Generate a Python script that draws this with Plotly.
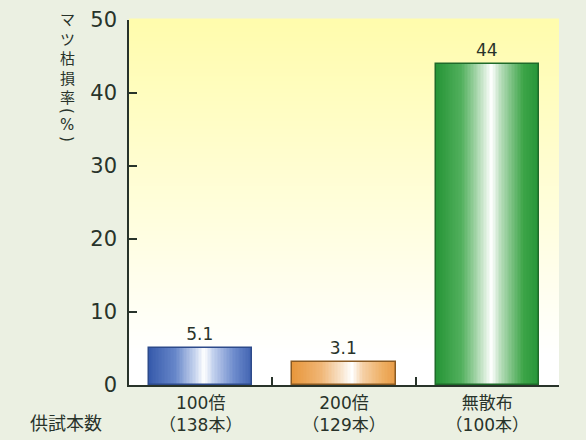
import plotly.graph_objects as go

# ---- data ----
categories = ["100倍<br>（138本）", "200倍<br>（129本）", "無散布<br>（100本）"]
values = [5.1, 3.1, 44]
value_labels = ["5.1", "3.1", "44"]
y_title_main = ["マ", "ツ", "枯", "損", "率"]
y_title_unit = ["(", "%", ")"]
x_side_label = "供試本数"

# ---- styles ----
BG = "#ebf0e2"
TXT = "#28332a"
FONT = "DejaVu Sans, Noto Sans CJK JP"
CJK = "Noto Sans CJK JP"
W, H = 586, 440
ML, MR, MT, MB = 129, 27, 20, 55
PW, PH = W - ML - MR, H - MT - MB
BAR_W = 0.72

grad_stops = [
    [(0, "#365aab"), (0.25, "#6686c9"), (0.45, "#c9d6ef"), (0.53, "#ffffff"),
     (0.62, "#c4d2ee"), (0.82, "#6e8ccd"), (1, "#4062b0")],
    [(0, "#e8973c"), (0.28, "#f0b676"), (0.48, "#f9e6d0"), (0.58, "#ffffff"),
     (0.68, "#f5d0a6"), (0.88, "#eeae62"), (1, "#e99b45")],
    [(0, "#259436"), (0.25, "#52b05d"), (0.45, "#c6e4c8"), (0.54, "#ffffff"),
     (0.63, "#b5dcb8"), (0.85, "#3ca447"), (1, "#269538")],
]
border_colors = ["#2d4a8a", "#8a5a22", "#1f6a2a"]


def hex2rgb(h):
    h = h.lstrip("#")
    return tuple(int(h[i:i + 2], 16) for i in (0, 2, 4))


def interp(stops, t):
    for (t0, c0), (t1, c1) in zip(stops[:-1], stops[1:]):
        if t0 <= t <= t1:
            f = (t - t0) / (t1 - t0) if t1 > t0 else 0
            a, b = hex2rgb(c0), hex2rgb(c1)
            return "rgb(%d,%d,%d)" % tuple(round(a[i] + (b[i] - a[i]) * f) for i in range(3))
    return stops[-1][1]


fig = go.Figure()

# gradient bars drawn as thin overlapping strips of the same bars
N = 70
step = BAR_W / N
for k in range(N):
    off = -BAR_W / 2 + k * step
    wdt = min(step * 1.8, BAR_W / 2 - off)
    t = (k + 0.5) / N
    fig.add_trace(go.Bar(
        x=categories, y=values, width=wdt, offset=off,
        marker=dict(color=[interp(s, t) for s in grad_stops], line=dict(width=0)),
        hoverinfo="skip", showlegend=False,
    ))

# outline + value labels
fig.add_trace(go.Bar(
    x=categories, y=values, width=BAR_W,
    marker=dict(color="rgba(0,0,0,0)", line=dict(color=border_colors, width=1.5)),
    text=value_labels, textposition="outside",
    textfont=dict(family=FONT, size=17, color=TXT),
    cliponaxis=False, showlegend=False,
))

# plot background vertical gradient (yellow -> white)
shapes = []
M = 90
top, bot = hex2rgb("#fffcac"), hex2rgb("#ffffff")
for i in range(M):
    y0, y1 = i / M, (i + 1) / M
    f = max(0.0, min(1.0, ((y0 + y1) / 2 - 0.08) / 0.92))
    c = tuple(round(bot[j] + (top[j] - bot[j]) * f) for j in range(3))
    shapes.append(dict(type="rect", xref="x domain", yref="y domain",
                       x0=0, x1=1, y0=y0, y1=y1 + 0.004, layer="below",
                       line=dict(width=0), fillcolor="rgb(%d,%d,%d)" % c))


def py(ypx):
    return (MT + PH - ypx) / PH


XT = (67 - ML) / PW
ann = [dict(text="<br>".join(y_title_main), xref="paper", yref="paper",
            x=XT, y=py(7), xanchor="center", yanchor="top", showarrow=False,
            align="center", borderpad=0,
            font=dict(family=CJK, size=15, color=TXT))]
for ch, yc in zip(y_title_unit, [111, 125, 139]):
    ann.append(dict(text=ch, xref="paper", yref="paper", x=XT, y=py(yc),
                    xanchor="center", yanchor="middle", showarrow=False,
                    textangle=90 if ch in "()" else 0, borderpad=0,
                    font=dict(family="DejaVu Sans", size=15, color=TXT)))
ann.append(dict(text=x_side_label, xref="paper", yref="paper",
                x=(66 - ML) / PW, y=py(422),
                xanchor="center", yanchor="middle", showarrow=False,
                font=dict(family=CJK, size=18, color=TXT)))

fig.update_layout(
    width=W, height=H,
    margin=dict(l=ML, r=MR, t=MT, b=MB, autoexpand=False),
    paper_bgcolor=BG, plot_bgcolor="#ffffff",
    barmode="overlay", bargap=0,
    shapes=shapes, annotations=ann,
    font=dict(family=FONT, color=TXT),
    xaxis=dict(range=[-0.5, 2.5], tickson="boundaries", ticks="inside",
               ticklen=8, tickwidth=1.5, tickcolor=TXT,
               showline=True, linecolor=TXT, linewidth=1.5,
               showgrid=False, zeroline=False, automargin=False,
               tickfont=dict(family=FONT, size=17, color=TXT),
               ticklabelstandoff=2, fixedrange=True),
    yaxis=dict(range=[0, 50], dtick=10, ticks="inside", ticklen=8,
               tickwidth=1.5, tickcolor=TXT,
               showline=True, linecolor=TXT, linewidth=1.5,
               showgrid=False, zeroline=False, automargin=False,
               tickfont=dict(family=FONT, size=21, color=TXT),
               ticklabelstandoff=6, fixedrange=True),
)

fig.write_html("out.html", config={"displayModeBar": False})
